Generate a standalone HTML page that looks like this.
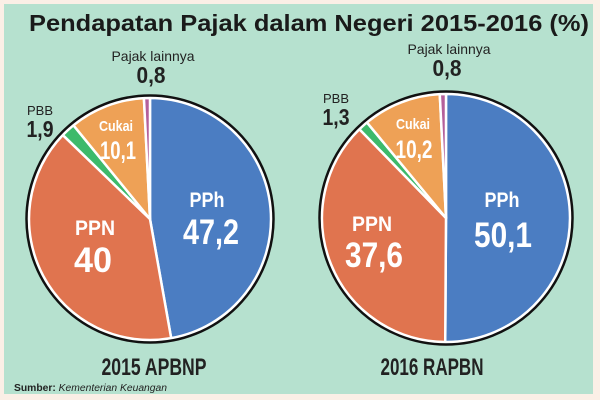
<!DOCTYPE html>
<html><head><meta charset="utf-8"><style>
body{margin:0;width:600px;height:400px;background:#fbefe6;overflow:hidden}
svg{display:block}
text{font-family:"Liberation Sans",sans-serif;font-weight:bold}
</style></head><body>
<svg id="s" width="600" height="400" xmlns="http://www.w3.org/2000/svg">
<rect x="4" y="4" width="589" height="390" fill="#b6e1cf"/>
<text x="29" y="31" font-size="23" fill="#1a1a1a" textLength="560" lengthAdjust="spacingAndGlyphs">Pendapatan Pajak dalam Negeri 2015-2016 (%)</text>
<g id="p1"></g><g id="p2"></g>
<g fill="#fff" text-anchor="middle">
<text x="207" y="207" font-size="21" textLength="35" lengthAdjust="spacingAndGlyphs">PPh</text>
<text x="211" y="244" font-size="35" textLength="56" lengthAdjust="spacingAndGlyphs">47,2</text>
<text x="95" y="235" font-size="21" textLength="40" lengthAdjust="spacingAndGlyphs">PPN</text>
<text x="93" y="272" font-size="35" textLength="38" lengthAdjust="spacingAndGlyphs">40</text>
<text x="116" y="131" font-size="15" textLength="34" lengthAdjust="spacingAndGlyphs">Cukai</text>
<text x="118" y="159" font-size="25" textLength="36" lengthAdjust="spacingAndGlyphs">10,1</text>
<text x="502" y="207" font-size="21" textLength="35" lengthAdjust="spacingAndGlyphs">PPh</text>
<text x="503" y="247" font-size="35" textLength="58" lengthAdjust="spacingAndGlyphs">50,1</text>
<text x="372" y="231" font-size="21" textLength="40" lengthAdjust="spacingAndGlyphs">PPN</text>
<text x="374" y="267" font-size="35" textLength="58" lengthAdjust="spacingAndGlyphs">37,6</text>
<text x="413" y="129" font-size="15" textLength="34" lengthAdjust="spacingAndGlyphs">Cukai</text>
<text x="414" y="158" font-size="25" textLength="37" lengthAdjust="spacingAndGlyphs">10,2</text>
</g>
<g fill="#222" text-anchor="middle">
<text x="153" y="61" font-size="14" style="font-weight:normal" textLength="83" lengthAdjust="spacingAndGlyphs">Pajak lainnya</text>
<text x="151" y="83" font-size="23" textLength="29" lengthAdjust="spacingAndGlyphs">0,8</text>
<text x="40" y="115" font-size="13" style="font-weight:normal" textLength="26" lengthAdjust="spacingAndGlyphs">PBB</text>
<text x="40" y="137" font-size="23" textLength="27" lengthAdjust="spacingAndGlyphs">1,9</text>
<text x="449" y="54" font-size="14" style="font-weight:normal" textLength="83" lengthAdjust="spacingAndGlyphs">Pajak lainnya</text>
<text x="447" y="76" font-size="23" textLength="29" lengthAdjust="spacingAndGlyphs">0,8</text>
<text x="336" y="103" font-size="13" style="font-weight:normal" textLength="26" lengthAdjust="spacingAndGlyphs">PBB</text>
<text x="336" y="125" font-size="23" textLength="27" lengthAdjust="spacingAndGlyphs">1,3</text>
<text x="154" y="375" font-size="24" textLength="105" lengthAdjust="spacingAndGlyphs">2015 APBNP</text>
<text x="432" y="375" font-size="24" textLength="103" lengthAdjust="spacingAndGlyphs">2016 RAPBN</text>
</g>
<text x="14" y="391" font-size="10" fill="#222" textLength="153" lengthAdjust="spacingAndGlyphs">Sumber: <tspan font-style="italic" font-weight="normal">Kementerian Keuangan</tspan></text>
</svg>
<script>
function pie(id,cx,cy,r,vals){
 var cols=["#4b7dc2","#e0744f","#3dba6b","#eea156","#b4609b"];
 var g=document.getElementById(id),a=0,h='';
 var tot=vals.reduce(function(x,y){return x+y},0);
 vals.forEach(function(v,i){
  var a2=a+v/tot*2*Math.PI;
  var x1=cx+r*Math.sin(a),y1=cy-r*Math.cos(a),x2=cx+r*Math.sin(a2),y2=cy-r*Math.cos(a2);
  h+='<path d="M'+cx+','+cy+'L'+x1+','+y1+'A'+r+','+r+' 0 '+(a2-a>Math.PI?1:0)+' 1 '+x2+','+y2+'Z" fill="'+cols[i]+'" stroke="#fff" stroke-width="2.5" stroke-linejoin="round"/>';
  a=a2;});
 h+='<circle cx="'+cx+'" cy="'+cy+'" r="'+(r+1)+'" fill="none" stroke="#fff" stroke-width="1.5"/>';
 h+='<circle cx="'+cx+'" cy="'+cy+'" r="'+(r+2.5)+'" fill="none" stroke="#111" stroke-width="2.5"/>';
 g.innerHTML=h;
}
pie("p1",150,219,121,[47.2,40,1.9,10.1,0.8]);
pie("p2",446,218,124,[50.1,37.6,1.3,10.2,0.8]);
</script>
</body></html>
